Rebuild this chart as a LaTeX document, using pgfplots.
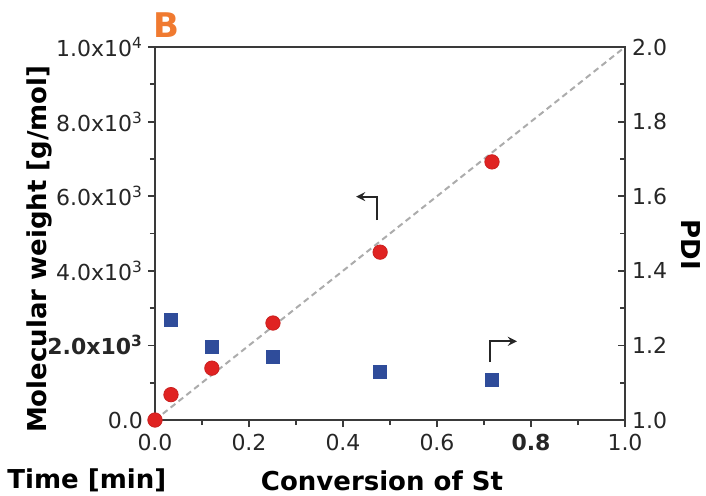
\documentclass[border=0pt]{standalone}
\usepackage{pgfplots}
\pgfplotsset{compat=1.18}
\usepackage{fontspec}
\setmainfont{DejaVu Sans}
\definecolor{mwred}{HTML}{E02322}
\definecolor{pdiblue}{HTML}{2F4C9A}
\definecolor{borange}{HTML}{F07A30}
\definecolor{axgray}{HTML}{3A3A3A}
\begin{document}
\begin{tikzpicture}
\path[use as bounding box] (-77.5pt,-37.5pt) rectangle (275.5pt,210pt);
\pgfplotsset{
  every axis/.append style={
    scale only axis, width=235pt, height=186.5pt,
    xmin=0, xmax=1,
    axis line style={axgray, line width=1.1pt},
    tick style={axgray, line width=0.9pt},
    major tick length=3.5pt, minor tick length=2.5pt,
    tick label style={font=\fontsize{11}{13}\selectfont, text=black!85},
  }
}
% Mn vs conversion (left axis)
\begin{axis}[
  ymin=0, ymax=10000,
  xtick={0,0.2,0.4,0.6,0.8,1.0},
  xticklabels={0.0,0.2,0.4,0.6,\textbf{0.8},1.0},
  ytick={0,2000,4000,6000,8000,10000},
  yticklabels={0.0,\textbf{2.0x10\textsuperscript{3}},4.0x10\textsuperscript{3},6.0x10\textsuperscript{3},8.0x10\textsuperscript{3},1.0x10\textsuperscript{4}},
  yticklabel style={xshift=1pt},
  minor x tick num=1, minor y tick num=1,
  xtick pos=bottom, ytick pos=left,
  tick align=outside,
  scaled y ticks=false,
  clip=false,
]
\addplot[gray!65, densely dashed, line width=1pt] coordinates {(0,0) (1,10000)};
\addplot[only marks, mark=*, mark size=3.6pt, mwred, mark options={draw=mwred!90!black, fill=mwred}]
coordinates {
  (0.000,0)
  (0.034,680)
  (0.121,1390)
  (0.251,2600)
  (0.479,4500)
  (0.717,6920)
};
\draw[-stealth, line width=1pt, black!85] (axis cs:0.472,5360) -- (axis cs:0.472,5990) -- (axis cs:0.428,5990);
\draw[-stealth, line width=1pt, black!85] (axis cs:0.713,1550) -- (axis cs:0.713,2110) -- (axis cs:0.770,2110);
\node[font=\bfseries\fontsize{17}{20}\selectfont, text=borange] at (axis description cs:0.024,1.059) {B};
\node[font=\bfseries\fontsize{13}{15}\selectfont, rotate=90] at (axis description cs:-0.245,0.458) {Molecular weight [g/mol]};
\node[font=\bfseries\fontsize{13}{15}\selectfont] at (axis description cs:-0.145,-0.162) {Time [min]};
\node[font=\bfseries\fontsize{13}{15}\selectfont] at (axis description cs:0.483,-0.162) {Conversion of St};
\node[font=\bfseries\fontsize{13}{15}\selectfont, rotate=-90] at (axis description cs:1.14,0.47) {PDI};
\end{axis}
% PDI vs conversion (right axis)
\begin{axis}[
  ymin=1.0, ymax=2.0,
  axis x line=none,
  axis y line*=right,
  ytick={1.0,1.2,1.4,1.6,1.8,2.0},
  yticklabel style={/pgf/number format/.cd, fixed, fixed zerofill, precision=1, assume math mode=true},
  minor y tick num=1,
  tick align=inside,
]
\addplot[only marks, mark=square*, mark size=3.3pt, pdiblue]
coordinates {
  (0.034,1.268)
  (0.121,1.196)
  (0.251,1.169)
  (0.479,1.129)
  (0.717,1.107)
};
\end{axis}
\end{tikzpicture}
\end{document}
